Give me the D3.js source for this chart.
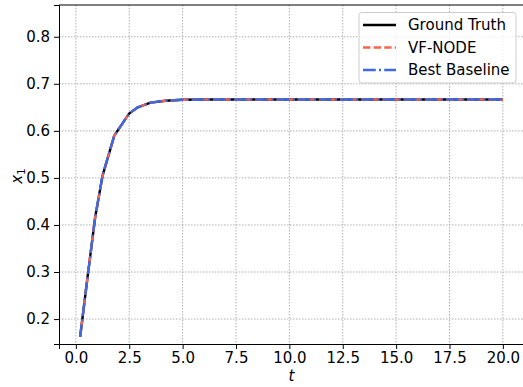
<!DOCTYPE html>
<html>
<head>
<script src="https://cdnjs.cloudflare.com/ajax/libs/d3/7.8.5/d3.min.js"></script>
<style>
  body { margin: 0; background: #fff; }
</style>
</head>
<body>
<div id="vis"></div>
<script>
// time samples and trajectory x1(t)
const tValues = [0.2, 0.55, 0.9, 1.25, 1.8, 2.5, 2.9, 3.5, 4.2, 5.0, 6.0, 7.0, 8.0, 9.0, 10.0, 11.0, 12.0, 13.0, 14.0, 15.0, 16.0, 17.0, 18.0, 19.0, 20.0];
const groundTruth = [0.162, 0.29, 0.415, 0.505, 0.59, 0.637, 0.650, 0.660, 0.664, 0.666, 0.6665, 0.6667, 0.6667, 0.6667, 0.6667, 0.6667, 0.6667, 0.6667, 0.6667, 0.6667, 0.6667, 0.6667, 0.6667, 0.6667, 0.6667];
const vfNode = groundTruth.slice();
const bestBaseline = groundTruth.slice();
const xTicks = [0, 2.5, 5, 7.5, 10, 12.5, 15, 17.5, 20];
const yTicks = [0.2, 0.3, 0.4, 0.5, 0.6, 0.7, 0.8];
const legendLabels = ["Ground Truth", "VF-NODE", "Best Baseline"];

const width = 523, height = 387;
const mLeft = 59, mRight = 524, mTop = 5, mBottom = 344;
const FONT = "DejaVu Sans";
const FS = 15;

const svg = d3.select("#vis").append("svg")
    .attr("width", width).attr("height", height);

const x = d3.scaleLinear().domain([-0.79, 20.99]).range([mLeft, mRight]);
const y = d3.scaleLinear().domain([0.147, 0.8675]).range([mBottom, mTop]);

// grid
const grid = svg.append("g").attr("stroke", "#b0b0b0").attr("stroke-width", 1)
    .attr("stroke-dasharray", "1.5,1.5");
grid.selectAll("line.gx").data(xTicks).join("line")
    .attr("class", "gx")
    .attr("x1", d => x(d)).attr("x2", d => x(d))
    .attr("y1", mTop).attr("y2", mBottom);
grid.selectAll("line.gy").data(yTicks).join("line")
    .attr("class", "gy")
    .attr("x1", mLeft).attr("x2", mRight)
    .attr("y1", d => y(d)).attr("y2", d => y(d));

// lines
const line = d3.line().x(d => x(d[0])).y(d => y(d[1]));
const series = [
  {data: groundTruth, color: "#000000", dash: null, w: 2.4},
  {data: vfNode, color: "#ff6347", dash: "7.4,3.2", w: 2.4},
  {data: bestBaseline, color: "#4169e1", dash: "12.8,3.2,2,3.2", w: 2.4}
];
svg.append("g").selectAll("path").data(series).join("path")
    .attr("fill", "none")
    .attr("stroke", d => d.color)
    .attr("stroke-width", d => d.w)
    .attr("stroke-dasharray", d => d.dash)
    .attr("stroke-linejoin", "round")
    .attr("d", d => line(tValues.map((t, i) => [t, d.data[i]])));

// axes
const xAxis = svg.append("g").attr("transform", `translate(0,${mBottom})`)
    .call(d3.axisBottom(x).tickValues(xTicks).tickFormat(d3.format(".1f")).tickSize(5).tickPadding(3));
const yAxis = svg.append("g").attr("transform", `translate(${mLeft},0)`)
    .call(d3.axisLeft(y).tickValues(yTicks).tickFormat(d3.format(".1f")).tickSize(5).tickPadding(4));
[xAxis, yAxis].forEach(a => {
  a.attr("font-family", FONT).attr("font-size", FS);
  a.selectAll("text").attr("fill", "#000");
  a.selectAll("line").attr("stroke", "#000");
  a.select(".domain").attr("stroke", "#000");
});
xAxis.selectAll("text").attr("dy", "0.71em");
// top spine
svg.append("line").attr("x1", mLeft).attr("x2", mRight).attr("y1", mTop).attr("y2", mTop)
    .attr("stroke", "#000");

// axis labels
svg.append("text").attr("x", (mLeft + mRight) / 2).attr("y", 380.5)
    .attr("text-anchor", "middle").attr("font-family", FONT).attr("font-size", FS)
    .attr("font-style", "italic").text("t");
const yl = svg.append("text").attr("transform", `translate(22,176) rotate(-90)`)
    .attr("text-anchor", "middle").attr("font-family", FONT).attr("font-size", FS);
yl.append("tspan").attr("font-style", "italic").text("x");
yl.append("tspan").attr("font-size", 10.5).attr("dy", 3).text("1");

// legend
const lg = svg.append("g").attr("font-family", FONT).attr("font-size", FS);
lg.append("rect").attr("x", 359).attr("y", 12.5).attr("width", 157).attr("height", 70.5)
    .attr("rx", 3).attr("fill", "#fff").attr("fill-opacity", 0.8)
    .attr("stroke", "#cccccc").attr("stroke-width", 1);
legendLabels.forEach((lab, i) => {
  const yy = 25 + i * 22.5;
  lg.append("line").attr("x1", 363).attr("x2", 396).attr("y1", yy).attr("y2", yy)
      .attr("stroke", series[i].color).attr("stroke-width", series[i].w)
      .attr("stroke-dasharray", series[i].dash);
  lg.append("text").attr("x", 408).attr("y", yy + 5.4).text(lab);
});
</script>
</body>
</html>
